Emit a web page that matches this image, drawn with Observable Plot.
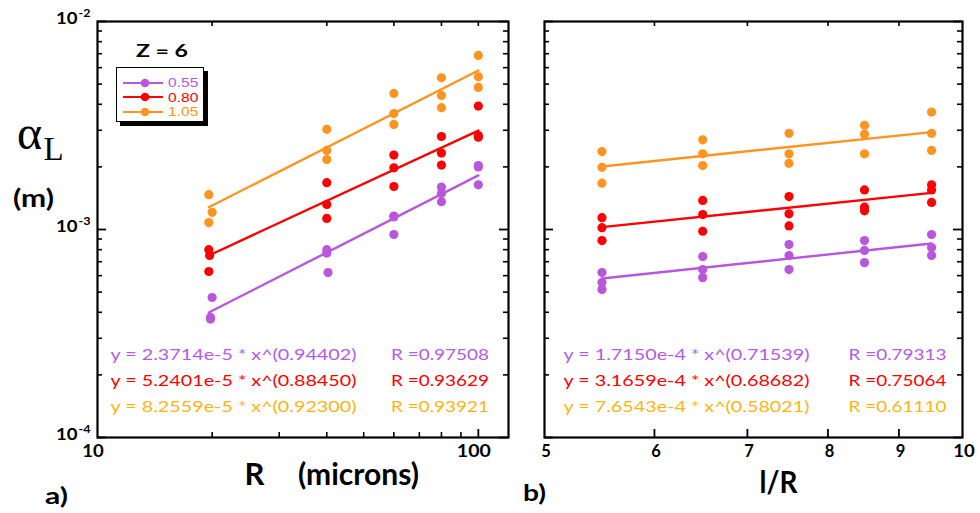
<!DOCTYPE html>
<html><head><meta charset="utf-8">
<script src="https://cdn.jsdelivr.net/npm/d3@7"></script>
<script src="https://cdn.jsdelivr.net/npm/@observablehq/plot@0.6"></script>
<style>
body{margin:0;background:#fff;}
#wrap{position:relative;width:980px;height:513px;overflow:hidden;font-family:Lato,sans-serif;}
#wrap > svg{position:absolute;top:0;}
#legend{position:absolute;left:116px;top:67px;width:88px;height:55px;border:1.5px solid #000;background:#fff;box-shadow:4px 4px 0 #000;box-sizing:border-box;}
#legend .row{position:absolute;left:6px;height:13px;display:flex;align-items:center;}
#legend .lab{display:inline-block;font-family:"Liberation Sans",Arial,sans-serif;font-size:13px;line-height:13px;margin-left:5px;transform:scaleX(1.2);transform-origin:left center;}
#ztitle{position:absolute;left:162px;top:51px;transform:translate(-50%,-50%) scaleX(1.4);font:bold 16.5px Lato,sans-serif;line-height:17px;white-space:nowrap;}
</style></head><body><div id="wrap"><div id="ztitle">Z = 6</div><div id="legend"></div></div>
<script>
// ---------- data ----------
const seriesNames = ["0.55", "0.80", "1.05"];
const dotColors = ["#b957dc", "#ff0000", "#ff9422"];
const eqColors = ["#b65ae8", "#ff0000", "#ffb414"];

// panel a: R (microns) vs alpha_L (m)
const aX_055 = [20, 19.8, 19.8, 40, 40, 40.3, 60, 60, 60, 80, 80, 80, 100, 100, 100];
const aY_055 = [4.71e-4, 3.78e-4, 3.71e-4, 8.0e-4, 7.7e-4, 6.21e-4, 1.16e-3, 1.15e-3, 9.46e-4, 1.60e-3, 1.49e-3, 1.36e-3, 2.03e-3, 2.0e-3, 1.64e-3];
const aX_080 = [19.6, 19.7, 19.6, 40, 40, 40, 60, 60, 60, 80, 80, 80, 100, 100, 100];
const aY_080 = [8.0e-4, 7.5e-4, 6.28e-4, 1.68e-3, 1.32e-3, 1.13e-3, 2.28e-3, 1.98e-3, 1.61e-3, 2.80e-3, 2.33e-3, 2.04e-3, 3.92e-3, 2.83e-3, 2.78e-3];
const aX_105 = [19.6, 20, 19.6, 40, 40, 40, 60, 60, 60, 80, 80, 80, 100, 100, 100];
const aY_105 = [1.47e-3, 1.21e-3, 1.08e-3, 3.03e-3, 2.40e-3, 2.17e-3, 4.51e-3, 3.61e-3, 3.20e-3, 5.36e-3, 4.41e-3, 3.85e-3, 6.87e-3, 5.42e-3, 4.82e-3];
const aFitX = [19.6, 100];
const aFitY_055 = [3.99e-4, 1.82e-3];
const aFitY_080 = [7.5e-4, 2.99e-3];
const aFitY_105 = [1.28e-3, 5.81e-3];
const aEquations = ["y = 2.3714e-5 * x^(0.94402)", "y = 5.2401e-5 * x^(0.88450)", "y = 8.2559e-5 * x^(0.92300)"];
const aRvalues = ["R =0.97508", "R =0.93629", "R =0.93921"];

// panel b: l/R vs alpha_L (m)
const bX = [5.5, 5.5, 5.5, 6.5, 6.5, 6.5, 7.5, 7.5, 7.5, 8.5, 8.5, 8.5, 9.5, 9.5, 9.5];
const bY_055 = [6.21e-4, 5.56e-4, 5.15e-4, 7.41e-4, 6.42e-4, 5.87e-4, 8.47e-4, 7.50e-4, 6.42e-4, 8.85e-4, 7.93e-4, 6.93e-4, 9.46e-4, 8.19e-4, 7.50e-4];
const bY_080 = [1.14e-3, 1.02e-3, 8.85e-4, 1.38e-3, 1.18e-3, 9.81e-4, 1.44e-3, 1.19e-3, 1.04e-3, 1.55e-3, 1.28e-3, 1.23e-3, 1.64e-3, 1.55e-3, 1.35e-3];
const bY_105 = [2.37e-3, 1.99e-3, 1.67e-3, 2.70e-3, 2.31e-3, 2.03e-3, 2.90e-3, 2.31e-3, 2.08e-3, 3.17e-3, 2.87e-3, 2.31e-3, 3.67e-3, 2.90e-3, 2.40e-3];
const bFitX = [5.5, 9.5];
const bFitY_055 = [5.81e-4, 8.57e-4];
const bFitY_080 = [1.026e-3, 1.50e-3];
const bFitY_105 = [2.01e-3, 2.94e-3];
const bEquations = ["y = 1.7150e-4 * x^(0.71539)", "y = 3.1659e-4 * x^(0.68682)", "y = 7.6543e-4 * x^(0.58021)"];
const bRvalues = ["R =0.79313", "R =0.75064", "R =0.61110"];

// axis ticks
const yMajor = [1e-4, 1e-3, 1e-2];
const yExponents = ["-4", "-3", "-2"];
const yMinor = [2e-4, 3e-4, 4e-4, 5e-4, 6e-4, 7e-4, 8e-4, 9e-4, 2e-3, 3e-3, 4e-3, 5e-3, 6e-3, 7e-3, 8e-3, 9e-3];
const aXLabels = [10, 100];
const aXBottomMinor = [20, 30, 40, 50, 60, 70, 80, 90];
const aXTop = [20, 40, 60, 80, 100];
const bXLabels = [5, 6, 7, 8, 9, 10];
const bXTicks = [6, 7, 8, 9];

// ---------- build tables ----------
function pts(xs, ys, s) { return xs.map((x, i) => ({x, y: ys[i], s})); }
const aPoints = [...pts(aX_055, aY_055, 0), ...pts(aX_080, aY_080, 1), ...pts(aX_105, aY_105, 2)];
const aFits = [...pts(aFitX, aFitY_055, 0), ...pts(aFitX, aFitY_080, 1), ...pts(aFitX, aFitY_105, 2)];
const bPoints = [...pts(bX, bY_055, 0), ...pts(bX, bY_080, 1), ...pts(bX, bY_105, 2)];
const bFits = [...pts(bFitX, bFitY_055, 0), ...pts(bFitX, bFitY_080, 1), ...pts(bFitX, bFitY_105, 2)];

const H = 513, mT = 21, mB = 76, frameH = H - mT - mB;
const F = "Lato, sans-serif";
const FS_EQ = 14.5;

function lbl(text, opts) {
  return Plot.text([text], {text: d => d, lineAnchor: "middle", textAnchor: "middle", fill: "#000", fontFamily: F, ...opts});
}

function commonMarks(fw, points, fits, eqs, rs, eqDx, rDx, xBottomMinor, xBottomMajor, xTop, xTickLen, xLabels, xLabelDx) {
  const marks = [
    Plot.frame({stroke: "#000", strokeWidth: 2.2}),
    Plot.tickY(yMinor, {y: d => d, insetRight: fw - 5, stroke: "#000", strokeWidth: 1.6}),
    Plot.tickY(yMinor, {y: d => d, insetLeft: fw - 5, stroke: "#000", strokeWidth: 1.6}),
    Plot.tickY(yMajor, {y: d => d, insetRight: fw - 9, stroke: "#000", strokeWidth: 1.8}),
    Plot.tickY(yMajor, {y: d => d, insetLeft: fw - 9, stroke: "#000", strokeWidth: 1.8}),
    Plot.tickX(xBottomMinor, {x: d => d, insetTop: frameH - xTickLen, stroke: "#000", strokeWidth: 1.6}),
    Plot.tickX(xBottomMajor, {x: d => d, insetTop: frameH - 8, stroke: "#000", strokeWidth: 1.8}),
    Plot.tickX(xTop, {x: d => d, insetBottom: frameH - 5, stroke: "#000", strokeWidth: 1.6}),
    Plot.text(xLabels, {x: d => d, text: d => String(d), frameAnchor: "bottom", lineAnchor: "middle", dx: xLabelDx, dy: 14, fontSize: 16.5, fontWeight: "bold", fontFamily: F, fill: "#000"}),
    Plot.line(fits, {x: "x", y: "y", z: "s", stroke: d => dotColors[d.s], strokeWidth: 2.4}),
    Plot.dot(points, {x: "x", y: "y", r: 4.6, fill: d => dotColors[d.s], stroke: "none"})
  ];
  eqs.forEach((e, i) => {
    marks.push(lbl(e, {frameAnchor: "bottom-left", textAnchor: "start", dx: eqDx, dy: -82 + 26 * i, fontSize: FS_EQ, fill: eqColors[i]}));
    marks.push(lbl(rs[i], {frameAnchor: "bottom-left", textAnchor: "start", dx: rDx, dy: -82 + 26 * i, fontSize: FS_EQ, fill: eqColors[i]}));
  });
  return marks;
}

// panel a
const aW = 515, aML = 97, aMR = 7, aFW = aW - aML - aMR;
const plotA = Plot.plot({
  width: aW, height: H, marginLeft: aML, marginRight: aMR, marginTop: mT, marginBottom: mB,
  x: {type: "log", domain: [10, 120], axis: null},
  y: {type: "log", domain: [1e-4, 1e-2], axis: null},
  style: {background: "transparent", overflow: "visible"},
  marks: [
    ...commonMarks(aFW, aPoints, aFits, aEquations, aRvalues, 13, 293.5, aXBottomMinor, [100], aXTop, 5, aXLabels, -4.5),
    Plot.text(yMajor, {y: d => d, text: () => "10", frameAnchor: "left", lineAnchor: "middle", textAnchor: "end", dx: -20, dy: -3, fontSize: 17.5, fontWeight: "bold", fontFamily: F, fill: "#000"}),
    Plot.text(yMajor, {y: d => d, text: (d, i) => yExponents[i], frameAnchor: "left", lineAnchor: "middle", textAnchor: "start", dx: -19, dy: -8, fontSize: 10.5, fontWeight: "bold", fontFamily: F, fill: "#000"}),
    lbl("α", {frameAnchor: "top-left", dx: -68, dy: 112, fontSize: 48, fontFamily: "Liberation Serif, serif"}),
    lbl("L", {frameAnchor: "top-left", dx: -44, dy: 128, fontSize: 33, fontFamily: "Liberation Serif, serif"}),
    lbl("(m)", {frameAnchor: "top-left", dx: -64, dy: 178, fontSize: 24, fontWeight: "bold"}),
    lbl("R", {frameAnchor: "bottom-left", dx: 157, dy: 38, fontSize: 31, fontWeight: "bold"}),
    lbl("(microns)", {frameAnchor: "bottom-left", dx: 261, dy: 38, fontSize: 30, fontWeight: "bold"}),
    lbl("a)", {frameAnchor: "bottom-left", dx: -41, dy: 59, fontSize: 22, fontWeight: "bold"})
  ]
});
plotA.style.left = "0px";

// panel b
const bW = 465, bML = 29, bMR = 18, bFW = bW - bML - bMR;
const plotB = Plot.plot({
  width: bW, height: H, marginLeft: bML, marginRight: bMR, marginTop: mT, marginBottom: mB,
  x: {type: "log", domain: [5, 10], axis: null},
  y: {type: "log", domain: [1e-4, 1e-2], axis: null},
  style: {background: "transparent", overflow: "visible"},
  marks: [
    ...commonMarks(bFW, bPoints, bFits, bEquations, bRvalues, 19, 304, [], bXTicks, bXTicks, 8, bXLabels, 1.5),
    lbl("l/R", {frameAnchor: "bottom-left", dx: 234, dy: 46, fontSize: 30, fontWeight: "bold"}),
    lbl("b)", {frameAnchor: "bottom-left", dx: -10, dy: 56, fontSize: 22, fontWeight: "bold"})
  ]
});
plotB.style.left = "515px";

// the reference letters are drawn wide: fit each text to the width it has in the picture
function fitWidth(svg) {
  svg.querySelectorAll("text").forEach(t => {
    const s = t.textContent;
    let w = null;
    if (/^y = /.test(s)) w = 246;
    else if (/^R =/.test(s)) w = 98;
    else if (s === "100") w = 34;
    else if (s === "10") w = 21.5;
    else if (/^-\d$/.test(s)) w = 12;
    else if (s === "(m)") w = 41;
    else if (s === "a)" || s === "b)") w = 23;
    else if (s === "(microns)") w = 121;
    else if (s === "l/R") w = 38;
    if (w) { t.setAttribute("textLength", w); t.setAttribute("lengthAdjust", "spacingAndGlyphs"); }
  });
}
fitWidth(plotA);
fitWidth(plotB);

const wrap = document.getElementById("wrap");
wrap.insertBefore(plotA, wrap.firstChild);
wrap.insertBefore(plotB, wrap.firstChild);

// legend
const legend = document.getElementById("legend");
seriesNames.forEach((name, i) => {
  const row = document.createElement("div");
  row.className = "row";
  row.style.top = (8 + i * 14.5) + "px";
  row.innerHTML = `<svg width="40" height="12"><line x1="0" y1="6" x2="40" y2="6" stroke="${dotColors[i]}" stroke-width="2"/><circle cx="22" cy="6" r="4.3" fill="${dotColors[i]}"/></svg><span class="lab" style="color:${dotColors[i]}">${name}</span>`;
  legend.appendChild(row);
});
</script></body></html>
